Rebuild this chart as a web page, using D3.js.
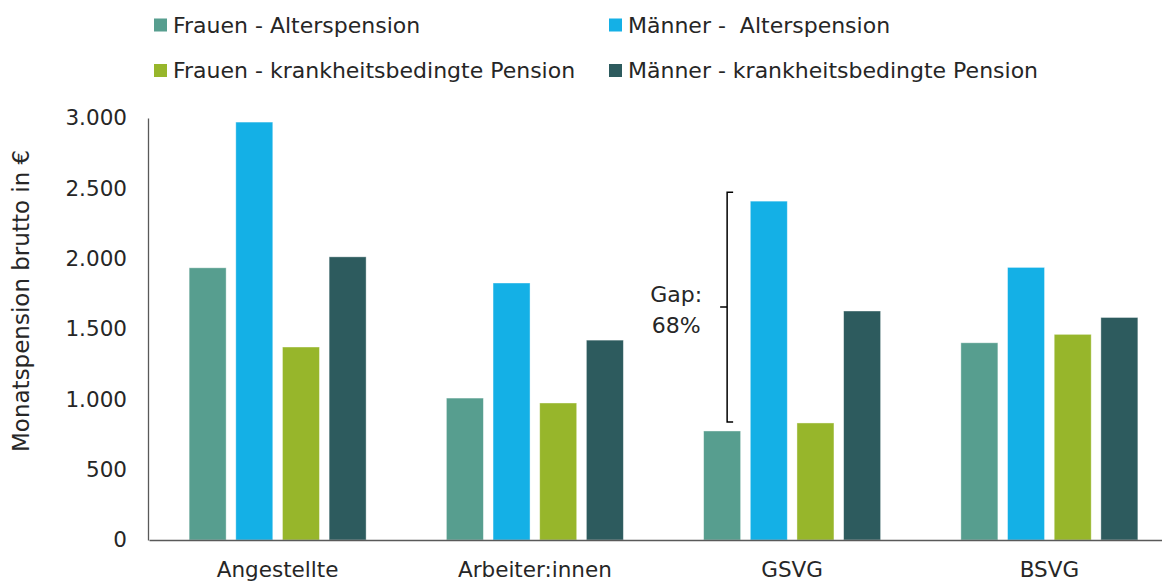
<!DOCTYPE html>
<html>
<head>
<meta charset="utf-8">
<script src="https://cdn.jsdelivr.net/npm/d3@7"></script>
<style>
  body { margin: 0; background: #fff; }
  text { font-family: "DejaVu Sans", sans-serif; fill: #262626; }
</style>
</head>
<body>
<div id="plot"></div>
<script>
var w = 1162,
    h = 581;

// data
var categories = ['Angestellte', 'Arbeiter:innen', 'GSVG', 'BSVG'];
var series = ['Frauen - Alterspension', 'Männer -  Alterspension',
              'Frauen - krankheitsbedingte Pension', 'Männer - krankheitsbedingte Pension'];
var colors = ['#579E8F', '#14B0E6', '#97B62B', '#2D5B5E'];
var frauenAlter = [1935, 1009, 775, 1402];
var maennerAlter = [2971, 1827, 2409, 1938];
var frauenKrank = [1372, 974, 832, 1462];
var maennerKrank = [2013, 1421, 1628, 1582];
var yTicks = [0, 500, 1000, 1500, 2000, 2500, 3000];
var gapLabel = ['Gap:', '68%'];

var values = [frauenAlter, maennerAlter, frauenKrank, maennerKrank];

var svg = d3.select('#plot').append('svg')
    .attr('width', w)
    .attr('height', h);

var x0 = d3.scaleBand()
    .domain(categories)
    .range([149, 1178]);

var x1 = d3.scaleBand()
    .domain(d3.range(series.length))
    .range([0, x0.bandwidth()])
    .paddingInner(0.207)
    .paddingOuter(0.86);

var y = d3.scaleLinear()
    .domain([0, 3000])
    .range([540, 118]);

var de = d3.formatLocale({decimal: ',', thousands: '.', grouping: [3], currency: ['', '€']});

//y axis
var yAxis = svg.append('g')
    .attr('transform', 'translate(148,0)')
    .call(d3.axisLeft(y).tickValues(yTicks).tickSize(0).tickPadding(21).tickFormat(de.format(',')));
yAxis.select('.domain').attr('stroke', '#595959').attr('stroke-width', 1.3);
yAxis.selectAll('text')
    .style('font-family', '"DejaVu Sans", sans-serif')
    .style('font-size', '21.5px')
    .attr('fill', '#262626');

svg.append('text')
    .attr('transform', 'translate(29,' + y(1700) + ') rotate(-90)')
    .attr('text-anchor', 'middle')
    .style('font-size', '23px')
    .text('Monatspension brutto in €');

//bars
var groups = svg.append('g').selectAll('.grp')
    .data(categories)
    .enter()
    .append('g')
    .attr('class', 'grp')
    .attr('transform', function(d){ return 'translate(' + x0(d) + ',0)'; });

groups.selectAll('rect')
    .data(function(d, i){ return values.map(function(v, s){ return {s: s, v: v[i]}; }); })
    .enter()
    .append('rect')
    .attr('x', function(d){ return x1(d.s); })
    .attr('y', function(d){ return y(d.v); })
    .attr('width', x1.bandwidth())
    .attr('height', function(d){ return y(0) - y(d.v); })
    .style('fill', function(d){ return colors[d.s]; })
    .style('stroke', 'rgba(255,255,255,0.5)')
    .style('stroke-width', 0.8);

//x axis
var xAxis = svg.append('g')
    .attr('transform', 'translate(0,' + y(0) + ')')
    .call(d3.axisBottom(x0).tickSize(0).tickPadding(22));
xAxis.select('.domain').attr('stroke', '#595959').attr('stroke-width', 1.3);
xAxis.selectAll('text')
    .style('font-family', '"DejaVu Sans", sans-serif')
    .style('font-size', '21.5px')
    .attr('fill', '#262626');

//legend
var legend = svg.append('g').selectAll('.leg')
    .data(series)
    .enter()
    .append('g')
    .attr('class', 'leg')
    .attr('transform', function(d, i){
        return 'translate(' + (i % 2 === 0 ? 154 : 609) + ',' + (i < 2 ? 25 : 70.5) + ')';
    });
legend.append('rect')
    .attr('x', 0).attr('y', -6.5)
    .attr('width', 13).attr('height', 13)
    .style('fill', function(d, i){ return colors[i]; });
legend.append('text')
    .attr('x', 19)
    .attr('y', 7.5)
    .style('font-size', '22px')
    .style('white-space', 'pre')
    .text(function(d){ return d; });

//gap annotation (GSVG)
var gi = 2;
var bx = x0(categories[gi]) + x1(0) + x1.bandwidth() / 2 + 5;
var yTop = y(maennerAlter[gi] + 64),
    yBot = y(frauenAlter[gi] + 64),
    yMid = (yTop + yBot) / 2;
svg.append('path')
    .attr('d', 'M' + (bx + 6) + ',' + yTop + 'H' + bx + 'V' + yBot + 'H' + (bx + 6) +
               'M' + (bx - 7) + ',' + yMid + 'H' + bx)
    .style('fill', 'none')
    .style('stroke', '#000')
    .style('stroke-width', 1.5);
svg.append('g').selectAll('text')
    .data(gapLabel)
    .enter()
    .append('text')
    .attr('x', bx - 51)
    .attr('y', function(d, i){ return yMid - 5 + i * 31; })
    .attr('text-anchor', 'middle')
    .style('font-size', '22px')
    .text(function(d){ return d; });
</script>
</body>
</html>
